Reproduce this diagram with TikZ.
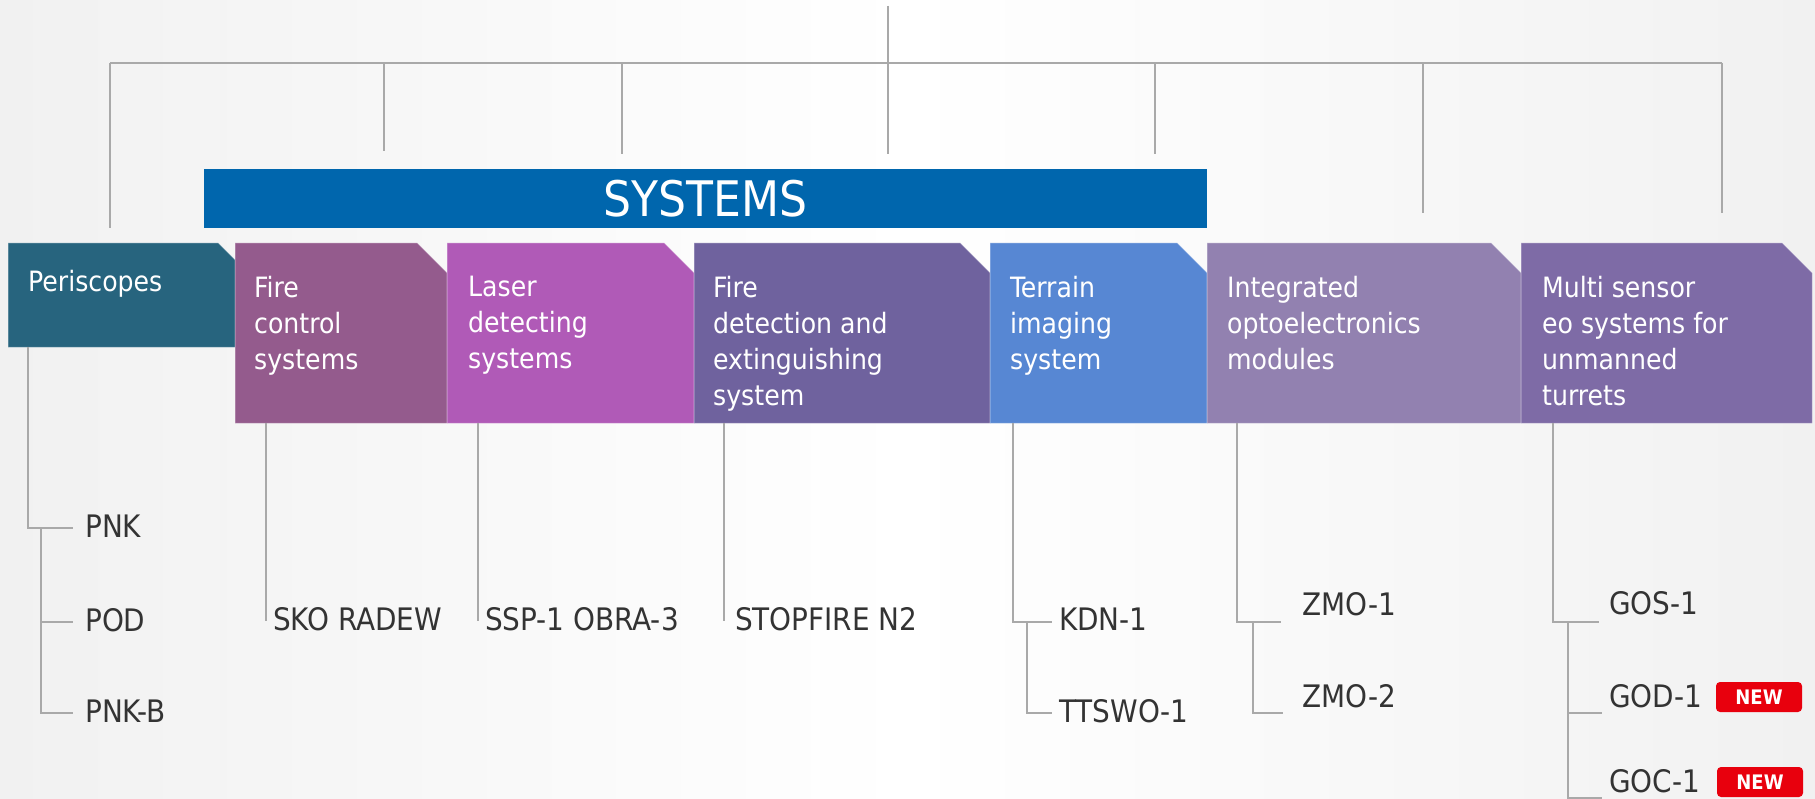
\documentclass[tikz,border=0pt]{standalone}
\usepackage{fontspec}
\setmainfont{DejaVu Sans Condensed}

\definecolor{perc}{HTML}{27647E}
\definecolor{fcsc}{HTML}{945B8D}
\definecolor{ldsc}{HTML}{B05AB7}
\definecolor{fdesc}{HTML}{6F629E}
\definecolor{tisc}{HTML}{5787D3}
\definecolor{iomc}{HTML}{9281B0}
\definecolor{mssc}{HTML}{7E6BA6}
\definecolor{sysc}{HTML}{0066AD}
\definecolor{linec}{HTML}{A9A9A9}
\definecolor{leafc}{HTML}{333333}
\definecolor{newc}{HTML}{E8000D}
\definecolor{bgc}{HTML}{F1F1F1}

\newcommand{\textfcs}{Fire\\control\\systems}
\newcommand{\textlds}{Laser\\detecting\\systems}
\newcommand{\textfdes}{Fire\\detection and\\extinguishing\\system}
\newcommand{\texttis}{Terrain\\imaging\\system}
\newcommand{\textiom}{Integrated\\optoelectronics\\modules}
\newcommand{\textmss}{Multi sensor\\eo systems for\\unmanned\\turrets}

\begin{document}
\begin{tikzpicture}[x=1pt,y=-1pt,
    link/.style={draw=linec,line width=2pt},
    any/.style={rectangle,inner sep=0pt,anchor=north west,minimum height=180pt},
    corner/.style={draw=white,draw opacity=0.35,line width=1pt},
    boxtext/.style={anchor=north west,inner sep=0pt,align=left,text=white,font=\fontsize{28}{36}\selectfont},
    leaf/.style={anchor=base west,inner sep=0pt,text=leafc,font=\fontsize{31}{36}\selectfont},
    new/.style={fill=newc,rounded corners=4pt,minimum width=86pt,minimum height=30pt,inner sep=0pt,text=white,font=\bfseries\fontsize{20}{20}\selectfont}
]
\useasboundingbox (0,0) rectangle (1815,799);
\shade[left color=bgc,right color=bgc,middle color=white] (0,0) rectangle (1815,799);

% top of the tree
\coordinate (root) at (888,6);
\coordinate (bus-l) at (110,63);
\coordinate (bus-r) at (1722,63);
\draw[link] (root) -- (root |- bus-l);
\draw[link] (bus-l) -- (bus-r);
\foreach \x/\y [count=\i] in {110/228,384/151,622/154,888/154,1155/154,1423/213,1722/213}
{
    \coordinate (d\i) at (\x,\y);
    \draw[link] (d\i |- bus-l) -- (d\i);
}

\node[fill=sysc,anchor=north west,minimum width=1003pt,minimum height=59pt,inner sep=0pt,text=white,font=\fontsize{49}{49}\selectfont] (sys) at (204,169) {SYSTEMS};

% category boxes
\node[any,minimum width=240pt,minimum height=104pt] (per) at (8,243) {};
\node[any,minimum width=212pt] (fcs) at (235,243) {};
\node[any,minimum width=247pt] (lds) at (447,243) {};
\node[any,minimum width=296pt] (fdes) at (694,243) {};
\node[any,minimum width=217pt] (tis) at (990,243) {};
\node[any,minimum width=314pt] (iom) at (1207,243) {};
\node[any,minimum width=291pt] (mss) at (1521,243) {};
\foreach \b/\c in {per/perc,fcs/fcsc,lds/ldsc,fdes/fdesc,tis/tisc,iom/iomc,mss/mssc}
    \fill[\c,corner] (\b.south west) |- ([xshift=-30pt]\b.north east) -- ([yshift=-30pt]\b.north east) |- cycle;

\node[boxtext] (per-t) at (28,270) {Periscopes};
\node[boxtext] (fcs-t) at (254,276) {\textfcs};
\node[boxtext] (lds-t) at (468,276) {\textlds};
\node[boxtext] (fdes-t) at (713,276) {\textfdes};
\node[boxtext] (tis-t) at (1010,276) {\texttis};
\node[boxtext] (iom-t) at (1227,276) {\textiom};
\node[boxtext] (mss-t) at (1542,276) {\textmss};

% products
\node[leaf] (pnk) at (85,537) {PNK};
\node[leaf] (pod) at (85,631) {POD};
\node[leaf] (pnkb) at (85,722) {PNK-B};
\node[leaf] (sko) at (273,630) {SKO RADEW};
\node[leaf] (ssp) at (485,630) {SSP-1 OBRA-3};
\node[leaf] (stopfire) at (735,630) {STOPFIRE N2};
\node[leaf] (kdn) at (1059,630) {KDN-1};
\node[leaf] (ttswo) at (1059,722) {TTSWO-1};
\node[leaf] (zmo1) at (1302,615) {ZMO-1};
\node[leaf] (zmo2) at (1302,707) {ZMO-2};
\node[leaf] (gos) at (1609,614) {GOS-1};
\node[leaf] (god) at (1609,707) {GOD-1};
\node[leaf] (goc) at (1609,792) {GOC-1};
\node[new] (god-new) at (1759,697) {NEW};
\node[new] (goc-new) at (1760,782) {NEW};

% periscopes
\coordinate (per-1) at (73,528);
\coordinate (per-2) at (73,622);
\coordinate (per-3) at (73,713);
\draw[link] (per.south -| 28,0) |- (per-1);
\draw[link] (per-1 -| 41,0) |- (per-3) (per-2 -| 41,0) -- (per-2);

% single products
\coordinate (sko-e) at (266,621);
\coordinate (ssp-e) at (478,621);
\coordinate (stopfire-e) at (724,621);
\draw[link] (fcs.south -| sko-e) -- (sko-e);
\draw[link] (lds.south -| ssp-e) -- (ssp-e);
\draw[link] (fdes.south -| stopfire-e) -- (stopfire-e);

% terrain imaging
\coordinate (tis-1) at (1052,622);
\coordinate (tis-2) at (1052,713);
\draw[link] (tis.south -| 1013,0) |- (tis-1);
\draw[link] (tis-1 -| 1027,0) |- (tis-2);

% optoelectronics modules
\coordinate (iom-1) at (1281,622);
\coordinate (iom-2) at (1283,713);
\draw[link] (iom.south -| 1237,0) |- (iom-1);
\draw[link] (iom-1 -| 1253,0) |- (iom-2);

% unmanned turrets
\coordinate (mss-1) at (1599,622);
\coordinate (mss-2) at (1602,713);
\coordinate (mss-3) at (1602,798);
\draw[link] (mss.south -| 1553,0) |- (mss-1);
\draw[link] (mss-1 -| 1568,0) |- (mss-3) (mss-2 -| 1568,0) -- (mss-2);
\end{tikzpicture}
\end{document}
